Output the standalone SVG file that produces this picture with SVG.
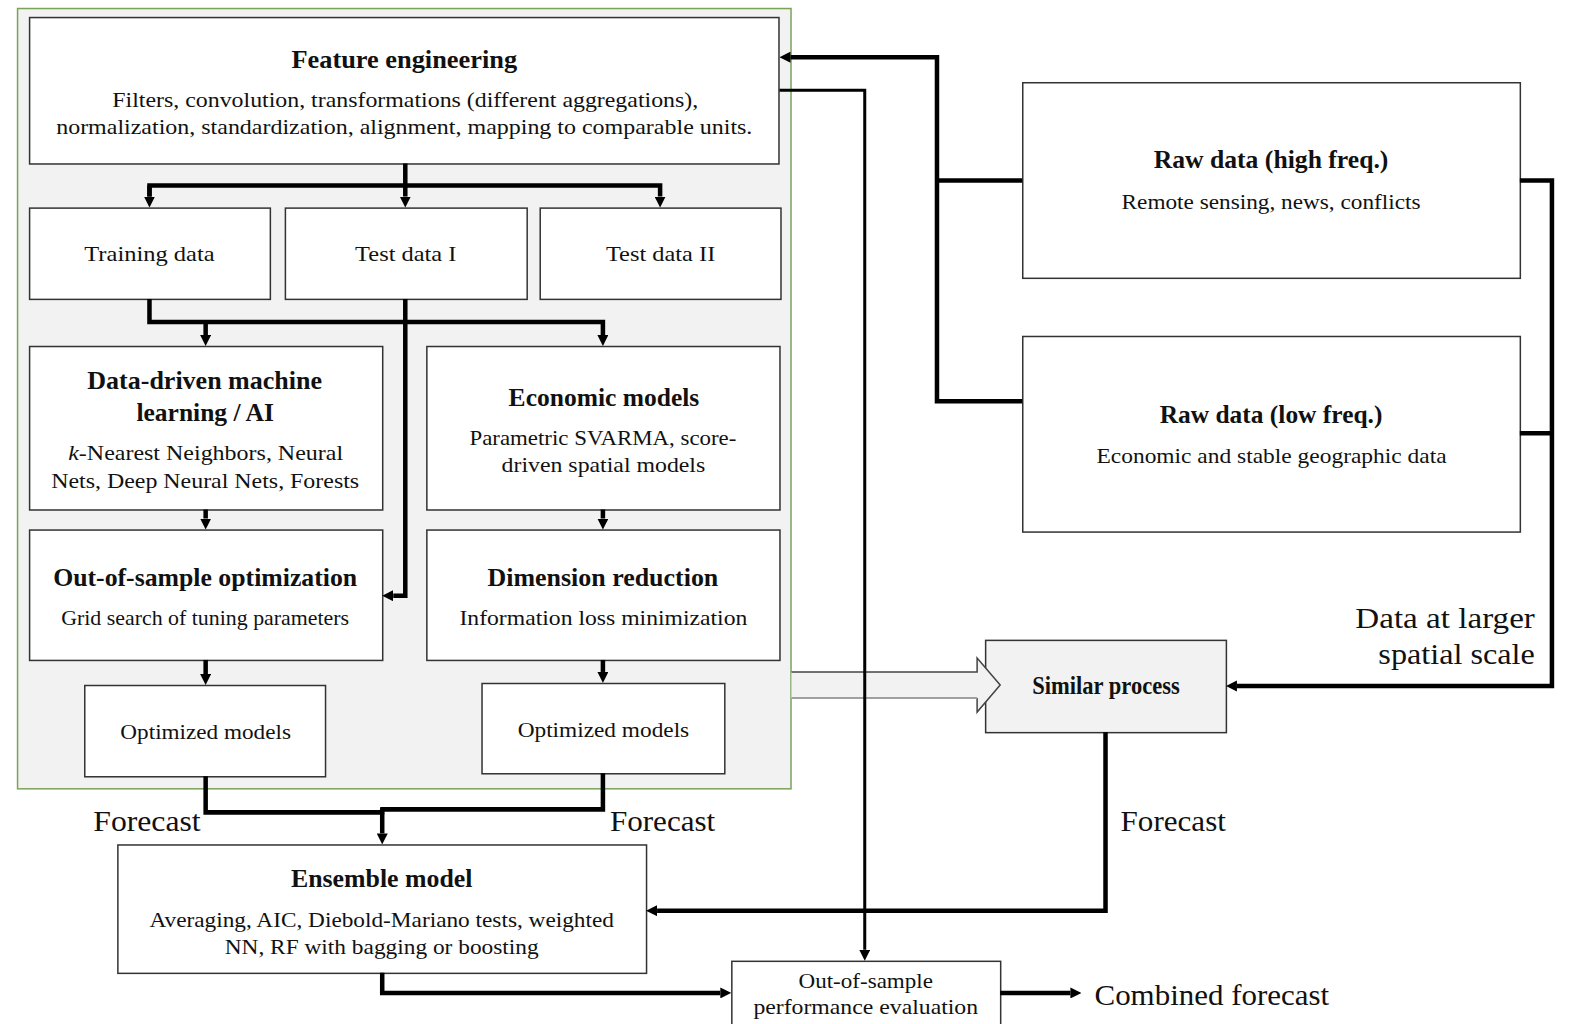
<svg xmlns="http://www.w3.org/2000/svg" width="1573" height="1024" viewBox="0 0 1573 1024">
<defs>
<style>
.box{fill:#ffffff;stroke:#333333;stroke-width:1.5}
.grey{fill:#f2f2f2;stroke:#333333;stroke-width:1.5}
.panel{fill:#f2f2f2;stroke:#7aa35a;stroke-width:1.5}
text{font-family:"Liberation Serif","Times New Roman",serif;fill:#111111}
.t{font-size:26px;font-weight:bold;text-anchor:middle}
.b{font-size:21px;text-anchor:middle}
.big{font-size:30px}
.conn{fill:none;stroke:#000000;stroke-width:4.5}
.thin{fill:none;stroke:#000000;stroke-width:3}
</style>
<marker id="ah" viewBox="0 0 10 10" markerUnits="userSpaceOnUse" markerWidth="11" markerHeight="11" refX="0" refY="5" orient="auto">
<path d="M0,0 L10,5 L0,10 z" fill="#000000"/>
</marker>
</defs>
<rect width="1573" height="1024" fill="#ffffff"/>
<g transform="scale(1.00319 1.00294)">

<g id="panel"><rect class="panel" x="17.5" y="8.5" width="771" height="778"/></g>

<g id="feature-engineering">
<rect class="box" x="29.5" y="17.5" width="747" height="146"/>
<text class="t" x="403" y="68" textLength="225" lengthAdjust="spacingAndGlyphs">Feature engineering</text>
<text class="b" x="404" y="107" textLength="584" lengthAdjust="spacingAndGlyphs">Filters, convolution, transformations (different aggregations),</text>
<text class="b" x="403" y="134" textLength="694" lengthAdjust="spacingAndGlyphs">normalization, standardization, alignment, mapping to comparable units.</text>
</g>

<g id="training-data">
<rect class="box" x="29.5" y="207.5" width="240" height="91"/>
<text class="b" x="149" y="260" textLength="130" lengthAdjust="spacingAndGlyphs">Training data</text>
</g>
<g id="test-data-1">
<rect class="box" x="284.5" y="207.5" width="241" height="91"/>
<text class="b" x="404.5" y="260" textLength="101" lengthAdjust="spacingAndGlyphs">Test data I</text>
</g>
<g id="test-data-2">
<rect class="box" x="538.5" y="207.5" width="240" height="91"/>
<text class="b" x="658.5" y="260" textLength="109" lengthAdjust="spacingAndGlyphs">Test data II</text>
</g>

<g id="ml">
<rect class="box" x="29.5" y="345.5" width="352" height="163"/>
<text class="t" x="204" y="388" textLength="234" lengthAdjust="spacingAndGlyphs">Data-driven machine</text>
<text class="t" x="204.5" y="420" textLength="137" lengthAdjust="spacingAndGlyphs">learning / AI</text>
<text class="b" x="205" y="459" textLength="274" lengthAdjust="spacingAndGlyphs"><tspan font-style="italic">k</tspan>-Nearest Neighbors, Neural</text>
<text class="b" x="204.5" y="487" textLength="307" lengthAdjust="spacingAndGlyphs">Nets, Deep Neural Nets, Forests</text>
</g>

<g id="economic-models">
<rect class="box" x="425.5" y="345.5" width="352" height="163"/>
<text class="t" x="602" y="405" textLength="190" lengthAdjust="spacingAndGlyphs">Economic models</text>
<text class="b" x="601" y="444" textLength="266" lengthAdjust="spacingAndGlyphs">Parametric SVARMA, score-</text>
<text class="b" x="601.5" y="471" textLength="203" lengthAdjust="spacingAndGlyphs">driven spatial models</text>
</g>

<g id="oos-optimization">
<rect class="box" x="29.5" y="528.5" width="352" height="130"/>
<text class="t" x="204.5" y="584" textLength="303" lengthAdjust="spacingAndGlyphs">Out-of-sample optimization</text>
<text class="b" x="204.5" y="623" textLength="287" lengthAdjust="spacingAndGlyphs">Grid search of tuning parameters</text>
</g>

<g id="dimension-reduction">
<rect class="box" x="425.5" y="528.5" width="352" height="130"/>
<text class="t" x="601" y="584" textLength="230" lengthAdjust="spacingAndGlyphs">Dimension reduction</text>
<text class="b" x="601.5" y="623" textLength="287" lengthAdjust="spacingAndGlyphs">Information loss minimization</text>
</g>

<g id="optimized-models-1">
<rect class="box" x="84.5" y="683.5" width="240" height="91"/>
<text class="b" x="205" y="737" textLength="170" lengthAdjust="spacingAndGlyphs">Optimized models</text>
</g>
<g id="optimized-models-2">
<rect class="box" x="480.5" y="681.5" width="242" height="90"/>
<text class="b" x="601.5" y="735" textLength="171" lengthAdjust="spacingAndGlyphs">Optimized models</text>
</g>

<g id="ensemble-model">
<rect class="box" x="117.5" y="842.5" width="527" height="128"/>
<text class="t" x="380.5" y="884" textLength="181" lengthAdjust="spacingAndGlyphs">Ensemble model</text>
<text class="b" x="380.5" y="924" textLength="463" lengthAdjust="spacingAndGlyphs">Averaging, AIC, Diebold-Mariano tests, weighted</text>
<text class="b" x="380.5" y="951" textLength="313" lengthAdjust="spacingAndGlyphs">NN, RF with bagging or boosting</text>
</g>

<g id="oos-evaluation">
<rect class="box" x="729.5" y="958.5" width="268" height="80"/>
<text class="b" x="863" y="985" textLength="134" lengthAdjust="spacingAndGlyphs">Out-of-sample</text>
<text class="b" x="863" y="1011" textLength="224" lengthAdjust="spacingAndGlyphs">performance evaluation</text>
</g>

<g id="raw-high">
<rect class="box" x="1019.5" y="82.5" width="496" height="195"/>
<text class="t" x="1267" y="168" font-size="25" textLength="234" lengthAdjust="spacingAndGlyphs">Raw data (high freq.)</text>
<text class="b" x="1267" y="208" textLength="298" lengthAdjust="spacingAndGlyphs">Remote sensing, news, conflicts</text>
</g>

<g id="raw-low">
<rect class="box" x="1019.5" y="335.5" width="496" height="195"/>
<text class="t" x="1267" y="422" font-size="25" textLength="222" lengthAdjust="spacingAndGlyphs">Raw data (low freq.)</text>
<text class="b" x="1267.5" y="462" textLength="349" lengthAdjust="spacingAndGlyphs">Economic and stable geographic data</text>
</g>

<g id="similar-process">
<rect class="grey" x="982.5" y="638.5" width="240" height="92"/>
<text class="t" x="1102.5" y="692" font-size="21" textLength="147" lengthAdjust="spacingAndGlyphs">Similar process</text>
</g>

<g id="hollow-arrow">
<polygon points="789,670 974,670 974,656 997,683 974,710 974,696 789,696" fill="#f2f2f2" stroke="none"/>
<path d="M789,670 H974 V656 L997,683 L974,710 V696" fill="none" stroke="#444444" stroke-width="1.5"/>
<path d="M789,696 H974" fill="none" stroke="#a0a0a0" stroke-width="2"/>
</g>

<g id="combined-forecast">
<text x="1091" y="1002" font-size="30" textLength="234" lengthAdjust="spacingAndGlyphs">Combined forecast</text>
</g>

<g id="connectors">
<path class="conn" d="M404,163 V196" marker-end="url(#ah)"/>
<path class="conn" d="M149,196 V185 H658 V196" marker-end="url(#ah)"/>
<path class="conn" d="M149,185 V196" marker-end="url(#ah)"/>
<path class="conn" d="M149,298 V321 H601 V334" marker-end="url(#ah)"/>
<path class="conn" d="M205,321 V334" marker-end="url(#ah)"/>
<path class="conn" d="M404,298 V594 H392" marker-end="url(#ah)"/>
<path class="conn" d="M205,508 V517" marker-end="url(#ah)"/>
<path class="conn" d="M601,508 V517" marker-end="url(#ah)"/>
<path class="conn" d="M205,658 V672" marker-end="url(#ah)"/>
<path class="conn" d="M601,658 V670" marker-end="url(#ah)"/>
<path class="conn" d="M205,774 V810 H383"/>
<path class="conn" d="M601,771 V807 H379"/>
<path class="conn" d="M381,806 V831" marker-end="url(#ah)"/>
<path class="conn" d="M1019,180 H934"/>
<path class="conn" d="M1019,400 H934 V57 H788" marker-end="url(#ah)"/>
<path class="thin" d="M777,90 H862 V947" marker-end="url(#ah)"/>
<path class="conn" d="M1515,180 H1547 V684 H1233" marker-end="url(#ah)"/>
<path class="conn" d="M1515,432 H1547"/>
<path class="conn" d="M1102,730 V908 H655" marker-end="url(#ah)"/>
<path class="conn" d="M381,970 V990 H718" marker-end="url(#ah)"/>
<path class="conn" d="M997,990 H1067" marker-end="url(#ah)"/>
</g>

<g id="labels">
<text class="big" x="93" y="829" textLength="107" lengthAdjust="spacingAndGlyphs">Forecast</text>
<text class="big" x="608" y="829" textLength="105" lengthAdjust="spacingAndGlyphs">Forecast</text>
<text class="big" x="1117" y="829" textLength="105" lengthAdjust="spacingAndGlyphs">Forecast</text>
<text class="big" x="1530" y="626" text-anchor="end" textLength="179" lengthAdjust="spacingAndGlyphs">Data at larger</text>
<text class="big" x="1530" y="662" text-anchor="end" textLength="156" lengthAdjust="spacingAndGlyphs">spatial scale</text>
</g>
</g>
</svg>
